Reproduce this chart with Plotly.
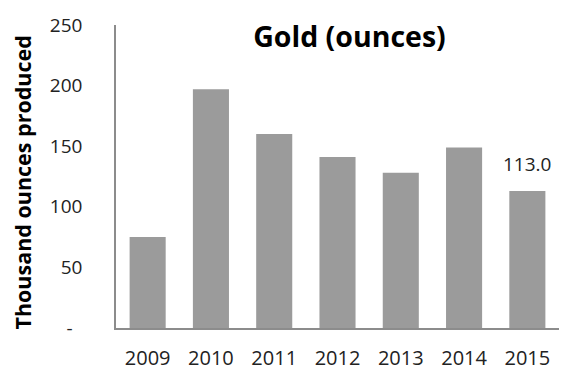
import plotly.graph_objects as go

years = ["2009", "2010", "2011", "2012", "2013", "2014", "2015"]
gold = [75, 197, 160, 141, 128, 149, 113.0]
y_ticks = [0, 50, 100, 150, 200, 250]
y_tick_text = ["-\u00a0\u00a0", "50", "100", "150", "200", "250"]

FONT = "Open Sans, Noto Sans, sans-serif"

fig = go.Figure()
fig.add_trace(go.Bar(
    x=years, y=gold,
    marker=dict(color="#9b9b9b", line=dict(width=0)),
    hoverinfo="skip",
))

# label the last bar (category index used so plotly does not read "2015" as a number)
last = len(years) - 1
fig.add_annotation(
    x=last, y=gold[last], xref="x", yref="y",
    text=f"{gold[last]:.1f}", showarrow=False,
    yanchor="bottom", yshift=12,
    font=dict(family=FONT, size=19, color="#222222"),
)

# y-axis title as a rotated annotation
fig.add_annotation(
    x=-0.21, y=0.48, xref="paper", yref="paper",
    text="<b>Thousand ounces produced</b>", textangle=-90, showarrow=False,
    xanchor="center", yanchor="middle",
    font=dict(family=FONT, size=21.5, color="black"),
)

fig.update_layout(
    width=561, height=370,
    margin=dict(l=116, r=2, t=25, b=42, autoexpand=False),
    paper_bgcolor="white", plot_bgcolor="white",
    bargap=0.43,
    showlegend=False,
    title=dict(
        text="<b>Gold (ounces)</b>",
        x=0.527, xanchor="center", xref="paper",
        y=0.9, yanchor="middle", yref="container",
        font=dict(family=FONT, size=28.5, color="black"),
    ),
    font=dict(family=FONT, size=19, color="#222222"),
)

fig.update_xaxes(
    type="category", automargin=False,
    showline=True, linecolor="#8c8c8c", linewidth=1.5,
    showgrid=False, ticks="outside", ticklen=11, tickcolor="rgba(0,0,0,0)",
    tickfont=dict(family=FONT, size=20, color="#222222"),
)
fig.update_yaxes(
    range=[0, 250], tickvals=y_ticks, ticktext=y_tick_text, automargin=False,
    showline=True, linecolor="#8c8c8c", linewidth=1.5,
    showgrid=False, zeroline=False,
    ticks="outside", ticklen=28, tickcolor="rgba(0,0,0,0)",
    tickfont=dict(family=FONT, size=19, color="#222222"),
)

fig.write_html("out.html")
